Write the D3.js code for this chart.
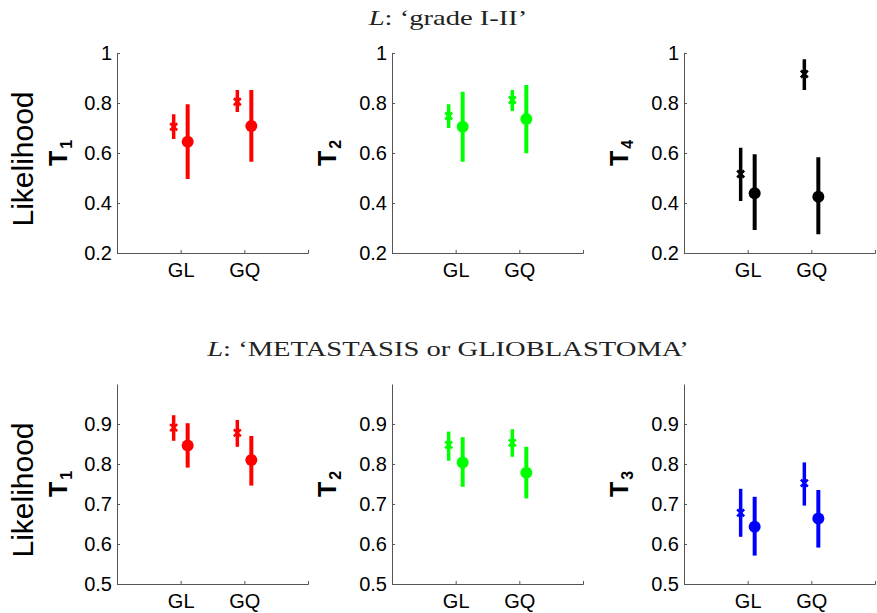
<!DOCTYPE html>
<html>
<head>
<meta charset="utf-8">
<script src="https://cdn.jsdelivr.net/npm/d3@7"></script>
<style>
  body { margin: 0; background: #fff; }
  svg { display: block; }
  .tick text { font-family: "Liberation Sans", Arial, sans-serif; font-size: 20px; fill: #000; }
  .axis path, .axis line { stroke: #555; stroke-width: 1; }
</style>
</head>
<body>
<svg id="canvas" width="877" height="613"></svg>
<script>
// chart data
let categories = ['GL', 'GQ']
let rowTitles = ['grade I-II', 'METASTASIS or GLIOBLASTOMA']
let rowSubscripts = [['1', '2', '4'], ['1', '2', '3']]
let rowColors = [['#ff0000', '#00ff00', '#000000'], ['#ff0000', '#00ff00', '#0000ff']]
let rowYDomain = [[0.2, 1], [0.5, 1]]
let rowYTicks = [[0.2, 0.4, 0.6, 0.8, 1], [0.5, 0.6, 0.7, 0.8, 0.9]]
let rowYTickLabels = [['0.2', '0.4', '0.6', '0.8', '1'], ['0.5', '0.6', '0.7', '0.8', '0.9']]

// 'x' marker series: [row][panel][category]
let starMean = [[[0.705, 0.805], [0.748, 0.812], [0.516, 0.916]],
                [[0.891, 0.878], [0.848, 0.853], [0.678, 0.752]]]
let starLow  = [[[0.656, 0.764], [0.700, 0.768], [0.408, 0.852]],
                [[0.858, 0.843], [0.808, 0.818], [0.618, 0.696]]]
let starHigh = [[[0.755, 0.852], [0.795, 0.852], [0.621, 0.975]],
                [[0.922, 0.910], [0.881, 0.887], [0.738, 0.804]]]

// filled circle series: [row][panel][category]
let dotMean = [[[0.645, 0.708], [0.705, 0.736], [0.439, 0.425]],
               [[0.846, 0.810], [0.804, 0.778], [0.643, 0.664]]]
let dotLow  = [[[0.496, 0.565], [0.565, 0.599], [0.292, 0.275]],
               [[0.791, 0.746], [0.743, 0.714], [0.571, 0.591]]]
let dotHigh = [[[0.795, 0.852], [0.845, 0.872], [0.595, 0.583]],
               [[0.902, 0.870], [0.867, 0.843], [0.718, 0.735]]]

// layout
let colX = [117, 392, 684]
let rowTop = [53, 384]
let panelW = 191
let panelH = 200
let offset = 0.11

let canvas = d3.select('#canvas')

let drawTitle = (row) => {
    let cy = row === 0 ? 25 : 356
    let t = canvas.append('text')
        .attr('transform', 'translate(448,' + cy + ') scale(1.3,1)')
        .attr('text-anchor', 'middle')
        .style('font-family', '"Liberation Serif", "Times New Roman", serif')
        .style('font-size', '22px')
        .style('fill', '#222')
    t.append('tspan').style('font-style', 'italic').text('L')
    t.append('tspan').text(': \u2018' + rowTitles[row] + '\u2019')
}

let drawPanel = (row, col) => {
    let x0 = colX[col]
    let y0 = rowTop[row]
    let color = rowColors[row][col]

    let x = d3.scaleLinear().domain([0, 3]).range([x0, x0 + panelW])
    let y = d3.scaleLinear().domain(rowYDomain[row]).range([y0 + panelH, y0])

    canvas.append('g')
        .attr('class', 'axis')
        .attr('transform', 'translate(0,' + (y0 + panelH) + ')')
        .call(d3.axisBottom(x)
            .tickValues([1, 2])
            .tickFormat((d) => categories[d - 1])
            .tickSizeInner(-3)
            .tickSizeOuter(-3)
            .tickPadding(10))

    canvas.append('g')
        .attr('class', 'axis')
        .attr('transform', 'translate(' + x0 + ',0)')
        .call(d3.axisLeft(y)
            .tickValues(rowYTicks[row])
            .tickFormat((d, i) => rowYTickLabels[row][i])
            .tickSizeInner(-3)
            .tickSizeOuter(0)
            .tickPadding(5))

    // y label T_n
    let lx = col === 0 ? 67 : x0 - 56
    let cy = y0 + panelH / 2
    let lab = canvas.append('text')
        .attr('transform', 'translate(' + lx + ',' + cy + ') rotate(-90)')
        .attr('text-anchor', 'middle')
        .style('font-family', '"Liberation Sans", Arial, sans-serif')
        .style('font-weight', 'bold')
        .style('font-size', '25px')
    lab.append('tspan').text('T')
    lab.append('tspan').attr('dx', 2).attr('dy', 5).style('font-size', '16px').text(rowSubscripts[row][col])

    if (col === 0) {
        canvas.append('text')
            .attr('transform', 'translate(33,' + (cy + 6) + ') rotate(-90)')
            .attr('text-anchor', 'middle')
            .style('font-family', '"Liberation Sans", Arial, sans-serif')
            .style('font-size', '30px')
            .text('Likelihood')
    }

    let idx = categories.map((c, i) => i)

    // 'x' series
    let g1 = canvas.append('g')
    g1.selectAll('line.err')
        .data(idx)
        .enter()
        .append('line')
        .attr('x1', (i) => x(i + 1 - offset))
        .attr('x2', (i) => x(i + 1 - offset))
        .attr('y1', (i) => y(starLow[row][col][i]))
        .attr('y2', (i) => y(starHigh[row][col][i]))
        .attr('stroke', color)
        .attr('stroke-width', 3.5)
    g1.selectAll('path.mark')
        .data(idx)
        .enter()
        .append('path')
        .attr('d', (i) => {
            let cx = x(i + 1 - offset)
            let cyy = y(starMean[row][col][i])
            let s = 3.5
            return 'M' + (cx - s) + ',' + (cyy - s) + 'L' + (cx + s) + ',' + (cyy + s) +
                   'M' + (cx - s) + ',' + (cyy + s) + 'L' + (cx + s) + ',' + (cyy - s)
        })
        .attr('stroke', color)
        .attr('stroke-width', 2.5)
        .attr('fill', 'none')

    // circle series
    let g2 = canvas.append('g')
    g2.selectAll('line.err')
        .data(idx)
        .enter()
        .append('line')
        .attr('x1', (i) => x(i + 1 + offset))
        .attr('x2', (i) => x(i + 1 + offset))
        .attr('y1', (i) => y(dotLow[row][col][i]))
        .attr('y2', (i) => y(dotHigh[row][col][i]))
        .attr('stroke', color)
        .attr('stroke-width', 4)
    g2.selectAll('circle')
        .data(idx)
        .enter()
        .append('circle')
        .attr('cx', (i) => x(i + 1 + offset))
        .attr('cy', (i) => y(dotMean[row][col][i]))
        .attr('r', 6)
        .attr('fill', color)
}

for (let r = 0; r < 2; r++) {
    drawTitle(r)
    for (let c = 0; c < 3; c++) {
        drawPanel(r, c)
    }
}
</script>
</body>
</html>
